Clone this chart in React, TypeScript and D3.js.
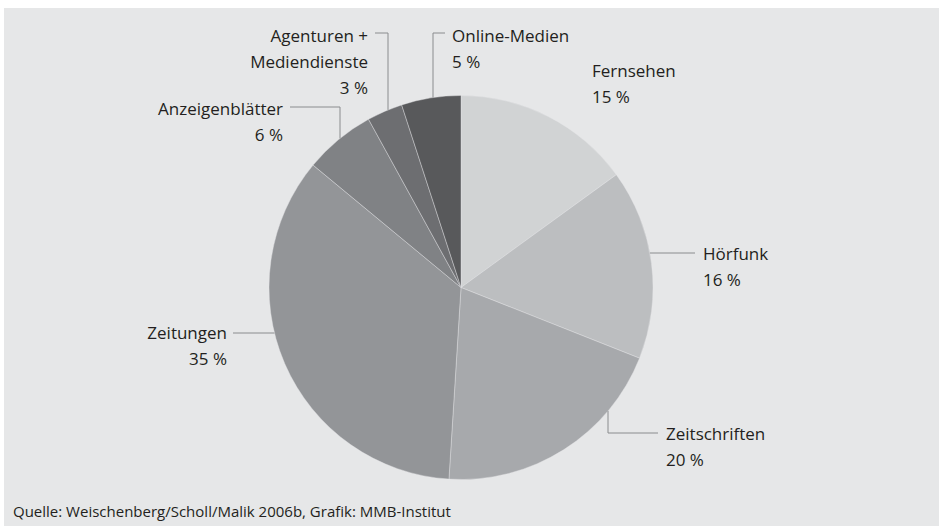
import React from "react";
import * as d3 from "d3";

const categories = ["Fernsehen", "Hörfunk", "Zeitschriften", "Zeitungen", "Anzeigenblätter", "Agenturen + Mediendienste", "Online-Medien"];
const values = [15, 16, 20, 35, 6, 3, 5];
const colors = ["#d1d3d4", "#bcbec0", "#a7a9ac", "#939598", "#808285", "#6d6e71", "#58595b"];
const labelLines = [
  ["Fernsehen", "15 %"],
  ["Hörfunk", "16 %"],
  ["Zeitschriften", "20 %"],
  ["Zeitungen", "35 %"],
  ["Anzeigenblätter", "6 %"],
  ["Agenturen +", "Mediendienste", "3 %"],
  ["Online-Medien", "5 %"],
];
const source = "Quelle: Weischenberg/Scholl/Malik 2006b, Grafik: MMB-Institut";

const W = 939, H = 527;
const cx = 461, cy = 287.5, R = 192;
const FONT = "'Open Sans', 'DejaVu Sans', sans-serif";
const LH = 26;

type Layout = { x: number; y: number; anchor: "start" | "end"; leader?: { kind: "h" | "hv"; y: number; x0: number; x1: number; vx?: number; dir?: number } };
const layouts: Layout[] = [
  { x: 592, y: 77, anchor: "start" },
  { x: 703, y: 260, anchor: "start", leader: { kind: "h", y: 253, x0: 0, x1: 695 } },
  { x: 666, y: 440, anchor: "start", leader: { kind: "hv", y: 433, x0: 608, x1: 658, vx: 608, dir: -1 } },
  { x: 227, y: 339, anchor: "end", leader: { kind: "h", y: 333, x0: 233, x1: 0 } },
  { x: 283, y: 115, anchor: "end", leader: { kind: "hv", y: 107, x0: 290, x1: 340, vx: 340, dir: 1 } },
  { x: 368, y: 42, anchor: "end", leader: { kind: "hv", y: 33, x0: 375, x1: 388, vx: 388, dir: 1 } },
  { x: 452, y: 42, anchor: "start", leader: { kind: "hv", y: 33, x0: 433, x1: 445, vx: 433, dir: 1 } },
];

export default function App() {
  const pie = d3.pie<number>().sort(null).value((d) => d);
  const arcs = pie(values);
  const arc = d3.arc<d3.PieArcDatum<number>>().innerRadius(0).outerRadius(R);

  const edgeY = (x: number, side: number) => cy + side * Math.sqrt(R * R - (x - cx) * (x - cx));
  const edgeX = (y: number, side: number) => cx + side * Math.sqrt(R * R - (y - cy) * (y - cy));

  const leaders = layouts.map((l, i) => {
    if (!l.leader) return null;
    const ld = l.leader;
    let d = "";
    if (ld.kind === "h") {
      const x0 = ld.x0 || edgeX(ld.y, 1);
      const x1 = ld.x1 || edgeX(ld.y, -1);
      d = `M${x0},${ld.y}H${x1}`;
    } else {
      const vx = ld.vx as number;
      const ey = ld.dir === 1 ? edgeY(vx, -1) : edgeY(vx, 1);
      const other = vx === ld.x0 ? ld.x1 : ld.x0;
      d = `M${other},${ld.y}H${vx}V${ey}`;
    }
    return <path key={"l" + i} d={d} fill="none" stroke="#8a8c8e" strokeWidth={1} />;
  });

  return (
    <svg width={W} height={H} style={{ position: "absolute", left: 0, top: 0, display: "block" }}>
      <rect x={4} y={8} width={W - 4} height={H - 9} fill="#e6e7e8" />
      <g transform={`translate(${cx},${cy})`}>
        {arcs.map((a, i) => (
          <path key={categories[i]} d={arc(a) as string} fill={colors[i]} stroke="#e6e7e8" strokeWidth={0.4} />
        ))}
      </g>
      {leaders}
      {layouts.map((l, i) => (
        <text key={"t" + i} x={l.x} y={l.y} textAnchor={l.anchor} fontFamily={FONT} fontSize={17} fill="#231f20">
          {labelLines[i].map((s, j) => (
            <tspan key={j} x={l.x} y={l.y + j * LH}>{s}</tspan>
          ))}
        </text>
      ))}
      <text x={13} y={517} fontFamily={FONT} fontSize={15} fill="#231f20">{source}</text>
    </svg>
  );
}
